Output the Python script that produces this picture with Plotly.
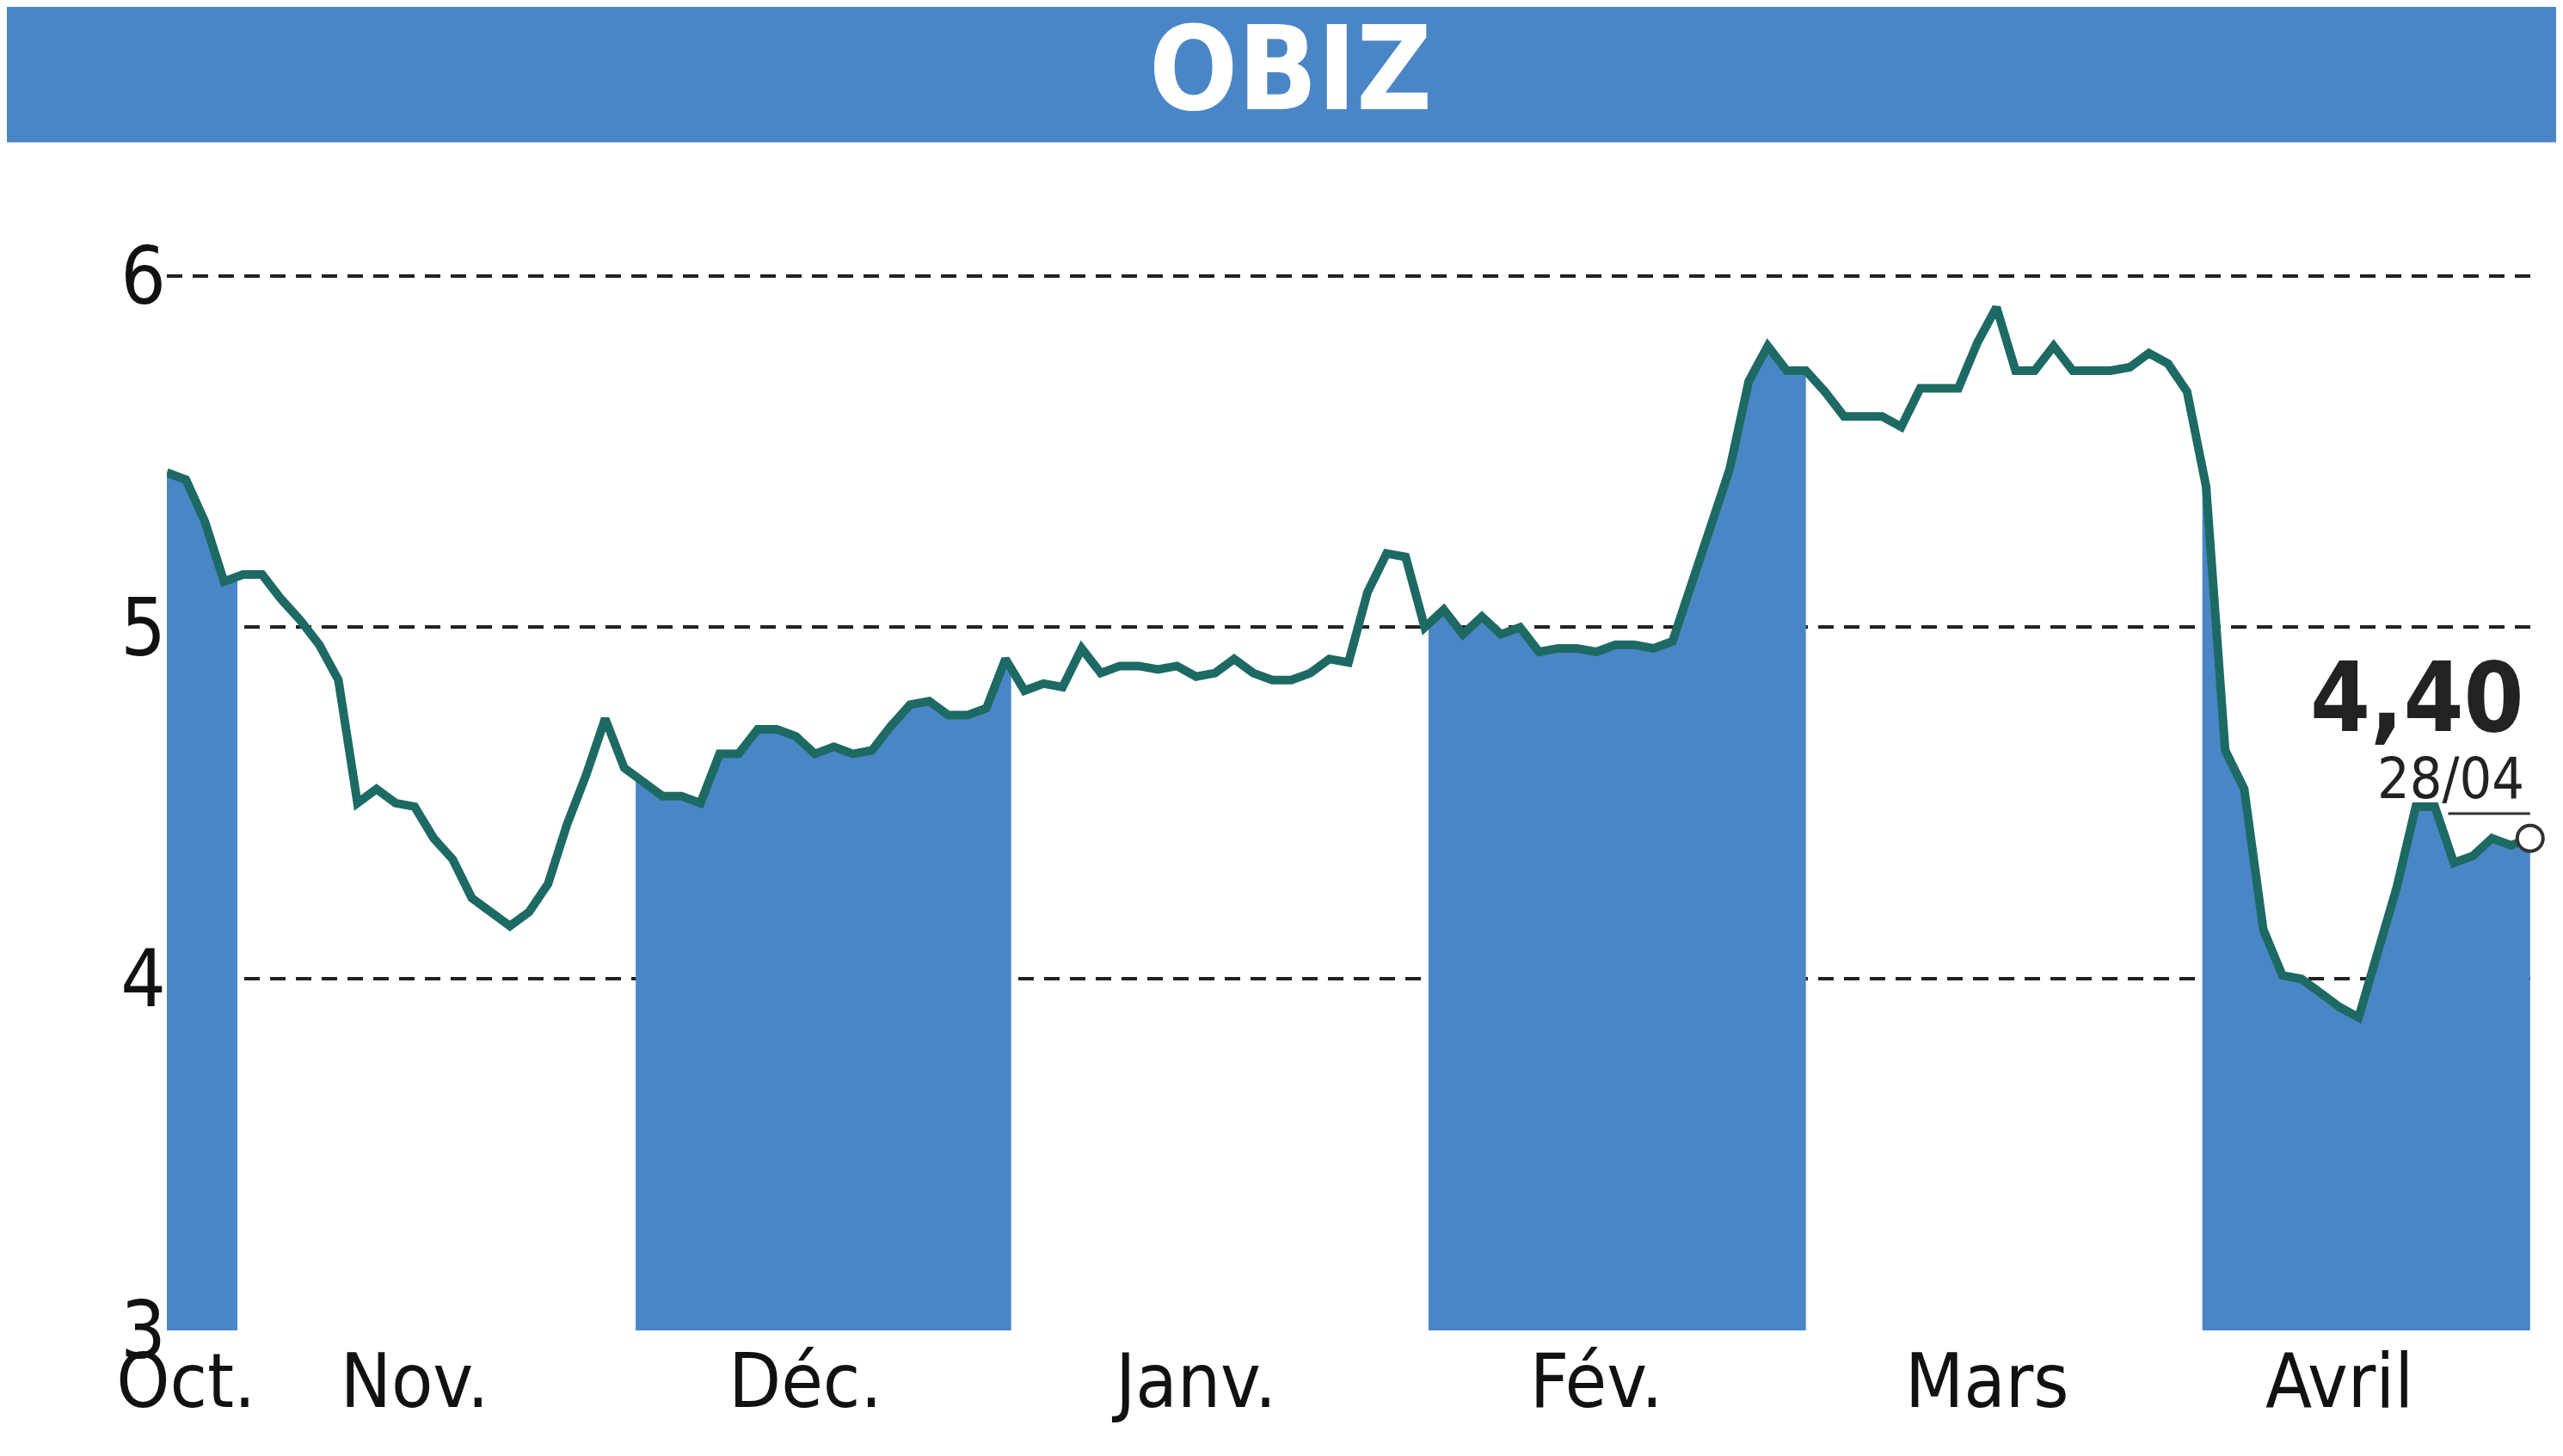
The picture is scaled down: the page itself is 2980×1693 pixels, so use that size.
import plotly.graph_objects as go

values = [5.44, 5.42, 5.30, 5.13, 5.15, 5.15, 5.08, 5.02, 4.95, 4.85,
          4.50, 4.54, 4.50, 4.49, 4.40, 4.34, 4.23, 4.19, 4.15, 4.19,
          4.27, 4.44, 4.58, 4.74, 4.60, 4.56, 4.52, 4.52, 4.50, 4.64,
          4.64, 4.71, 4.71, 4.69, 4.64, 4.66, 4.64, 4.65, 4.72, 4.78,
          4.79, 4.75, 4.75, 4.77, 4.91, 4.82, 4.84, 4.83, 4.94, 4.87,
          4.89, 4.89, 4.88, 4.89, 4.86, 4.87, 4.91, 4.87, 4.85, 4.85,
          4.87, 4.91, 4.90, 5.10, 5.21, 5.20, 5.00, 5.05, 4.98, 5.03,
          4.98, 5.00, 4.93, 4.94, 4.94, 4.93, 4.95, 4.95, 4.94, 4.96,
          5.12, 5.29, 5.45, 5.70, 5.80, 5.73, 5.73, 5.67, 5.60, 5.60,
          5.60, 5.57, 5.68, 5.68, 5.68, 5.81, 5.91, 5.73, 5.73, 5.80,
          5.73, 5.73, 5.73, 5.74, 5.78, 5.75, 5.67, 5.40, 4.65, 4.54,
          4.14, 4.01, 4.00, 3.96, 3.92, 3.89, 4.07, 4.26, 4.49, 4.49,
          4.33, 4.35, 4.40, 4.38, 4.40]
month_labels = ["Oct.", "Nov.", "Déc.", "Janv.", "Fév.", "Mars", "Avril"]
month_starts = [0, 3.7, 24.6, 44.3, 66.2, 86, 106.8]   # trading-day index of month start
label_pos = [1, 13, 33.5, 54, 75, 95.5, 114]
shaded = [0, 2, 4, 6]

n = len(values)
x = list(range(n))
blue = "#4a86c5"
teal = "#1d6a64"
font = "DejaVu Sans Condensed, Liberation Sans Narrow, sans-serif"


def val_at(t):
    i = min(int(t), n - 2)
    f = t - i
    return values[i] * (1 - f) + values[i + 1] * f


fig = go.Figure()
for m in shaded:
    a = month_starts[m]
    b = month_starts[m + 1] if m + 1 < len(month_starts) else n - 1
    xs = [a] + [i for i in x if a < i < b] + [b]
    fig.add_trace(go.Scatter(x=xs, y=[val_at(t) for t in xs], fill="tozeroy",
                             mode="none", fillcolor=blue, hoverinfo="skip"))
fig.add_trace(go.Scatter(x=x, y=values, mode="lines",
                         line=dict(color=teal, width=10)))
fig.add_trace(go.Scatter(x=[x[-1]], y=[values[-1]], mode="markers", cliponaxis=False,
                         marker=dict(size=30, color="white",
                                     line=dict(color="#333", width=4))))

fig.update_layout(
    width=2980, height=1693, showlegend=False,
    paper_bgcolor="white", plot_bgcolor="white",
    margin=dict(l=186, r=44, t=190, b=154),
    font=dict(family=font, color="#111"),
    xaxis=dict(range=[0, n - 1 + 0.1], tickvals=label_pos, ticktext=month_labels,
               showgrid=False, zeroline=False, tickfont=dict(size=88), ticks=""),
    yaxis=dict(range=[3, 6.3], tickvals=[3, 4, 5, 6], showgrid=True,
               gridcolor="#222", griddash="18px,12px", gridwidth=4, zeroline=False,
               tickfont=dict(size=92), ticks=""),
    shapes=[dict(type="rect", xref="paper", yref="paper", x0=-0.2, x1=1.1,
                 y0=1.024, y1=1.3, fillcolor=blue, line_width=0, layer="below"),
            dict(type="line", xref="x", yref="y", x0=n - 5.3, x1=n - 1,
                 y0=4.47, y1=4.47, line=dict(color="#333", width=3))],
    annotations=[
        dict(text="<b>OBIZ</b>", xref="paper", yref="paper", x=0.475, y=1.087,
             showarrow=False, font=dict(size=135, color="white"), yanchor="middle"),
        dict(text="<b>4,40</b>", xref="x", yref="y", x=n - 1.2, y=4.80,
             xanchor="right", yanchor="middle", showarrow=False,
             font=dict(size=112, color="#222")),
        dict(text="28/04", xref="x", yref="y", x=n - 1.2, y=4.57,
             xanchor="right", yanchor="middle", showarrow=False,
             font=dict(size=66, color="#222")),
    ],
)
fig.write_html("out.html")
